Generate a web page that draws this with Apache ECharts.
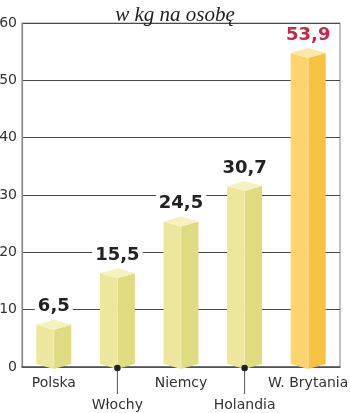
<!DOCTYPE html>
<html><head><meta charset="utf-8">
<script src="https://cdn.jsdelivr.net/npm/echarts@6/dist/echarts.min.js"></script>
<style>html,body{margin:0;padding:0;background:#fff}#c{width:350px;height:413px}</style>
</head><body><div id="c"></div>
<script>
const title = 'w kg na osobę';
const categories = ['Polska', 'Włochy', 'Niemcy', 'Holandia', 'W. Brytania'];
const values = [6.5, 15.5, 24.5, 30.7, 53.9];
const valueLabels = ['6,5', '15,5', '24,5', '30,7', '53,9'];
const yTicks = [0, 10, 20, 30, 40, 50, 60];

const highlight = values.length - 1;
const chart = echarts.init(document.getElementById('c'));
const data = values.map((v, i) => [i, v]);

function renderItem(params, api) {
  const i = api.value(0);
  const v = api.value(1);
  const top = api.coord([i, v]);
  const base = api.coord([i, 0]);
  const bw = api.size([1, 0])[0] * 0.55;
  const xc = top[0], x0 = xc - bw / 2, x1 = xc + bw / 2;
  const d = 5;
  const yt = top[1], yb = base[1] + 2;
  const hl = i === highlight;
  const cL = hl ? '#fbd46f' : '#ece79d';
  const cR = hl ? '#f6c242' : '#dedb80';
  const cT = hl ? '#fde7a8' : '#f5f1c0';
  const children = [
    {type: 'polygon', shape: {points: [[x0, yt - d], [xc, yt], [xc, yb], [x0, yb - d]]}, style: {fill: cL}},
    {type: 'polygon', shape: {points: [[xc, yt], [x1, yt - d], [x1, yb - d], [xc, yb]]}, style: {fill: cR}},
    {type: 'polygon', shape: {points: [[x0, yt - d], [xc, yt - 2 * d], [x1, yt - d], [xc, yt]]}, style: {fill: cT}},
    {type: 'line', shape: {x1: xc, y1: yt, x2: xc, y2: yb}, style: {stroke: hl ? '#fde2a0' : '#f3efc0', lineWidth: 0.8}},
    {type: 'text', x: xc, y: yt - 23, style: {
      text: valueLabels[i], fill: hl ? '#c8264c' : '#222', font: 'bold 18px "DejaVu Sans"',
      align: 'center', verticalAlign: 'middle', backgroundColor: '#fff', padding: [0, 3]
    }}
  ];
  if (i % 2 === 1) {
    children.push({type: 'line', shape: {x1: xc, y1: base[1], x2: xc, y2: base[1] + 27}, style: {stroke: '#555', lineWidth: 1}});
    children.push({type: 'circle', shape: {cx: xc, cy: base[1] + 1, r: 3.3}, style: {fill: '#222'}});
  }
  return {type: 'group', children};
}

chart.setOption({
  animation: false,
  title: {text: title, left: 'center', top: 0, textStyle: {fontFamily: 'Liberation Serif', fontStyle: 'italic', fontWeight: 'normal', fontSize: 21, color: '#222'}},
  grid: {left: 22, right: 10, top: 23, bottom: 46, show: true, borderColor: '#999', borderWidth: 1.2, outerBoundsMode: 'none', containLabel: false},
  xAxis: {
    type: 'category', data: categories,
    axisLine: {lineStyle: {color: '#555', width: 1.5}},
    axisTick: {show: false},
    axisLabel: {interval: 0, margin: 5, fontFamily: 'DejaVu Sans', fontSize: 14, color: '#333', lineHeight: 22,
      formatter: (val, idx) => idx % 2 === 1 ? '\n' + val : val}
  },
  yAxis: {
    type: 'value', min: yTicks[0], max: yTicks[yTicks.length - 1], interval: 10,
    axisLine: {show: true, lineStyle: {color: '#888', width: 1.2}},
    axisTick: {show: false},
    axisLabel: {margin: 5, fontFamily: 'DejaVu Sans', fontSize: 14, color: '#333'},
    splitLine: {lineStyle: {color: '#4a4a4a', width: 1.2}}
  },
  series: [{type: 'custom', renderItem, data, encode: {x: 0, y: 1}, clip: false}]
});
</script></body></html>
